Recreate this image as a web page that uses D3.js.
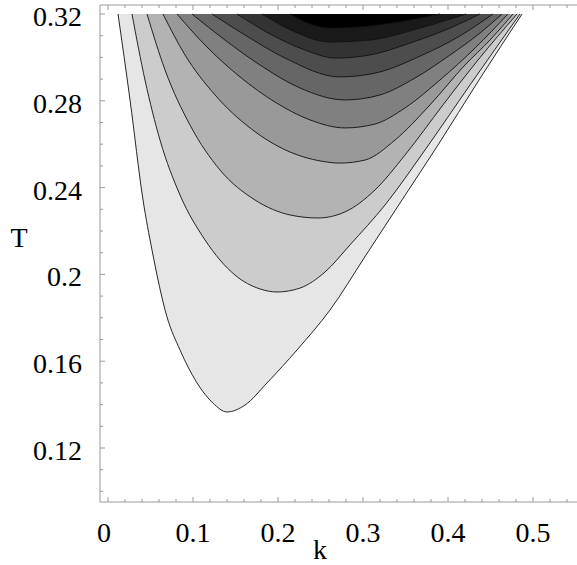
<!DOCTYPE html>
<html>
<head>
<meta charset="utf-8">
<script src="https://cdn.jsdelivr.net/npm/d3@7"></script>
<style>
  html, body { margin: 0; padding: 0; background: #fff; }
  svg { display: block; }
  text { font-family: "Liberation Serif", "Times New Roman", serif; fill: #000; }
</style>
</head>
<body>
<svg id="chart" width="577" height="565"></svg>
<script>
// Tick values
const kTicks = [0, 0.1, 0.2, 0.3, 0.4, 0.5];
const tTicks = [0.12, 0.16, 0.2, 0.24, 0.28, 0.32];

// Contour lines, outermost first, as [k, T] points; each opens onto T = 0.32
const contour1 = [[0.0118,0.32],[0.0259,0.2804],[0.0412,0.2343],[0.0518,0.2112],[0.0694,0.1804],[0.0847,0.1652],[0.1047,0.1500],[0.1235,0.1407],[0.14,0.1366],[0.1612,0.1398],[0.1871,0.1500],[0.2224,0.1652],[0.2612,0.1836],[0.3035,0.2089],[0.3459,0.2343],[0.3882,0.2596],[0.4365,0.2896],[0.4871,0.32]];
const contour2 = [[0.0282,0.32],[0.0435,0.2896],[0.0612,0.2619],[0.0847,0.2366],[0.1141,0.2159],[0.1494,0.1997],[0.1788,0.1933],[0.1988,0.1919],[0.2259,0.1937],[0.2553,0.2011],[0.2847,0.2136],[0.3259,0.2320],[0.3729,0.2573],[0.4259,0.2873],[0.4847,0.32]];
const contour3 = [[0.0459,0.32],[0.0671,0.2942],[0.0965,0.2688],[0.1318,0.2481],[0.1729,0.2343],[0.2141,0.2274],[0.2471,0.2260],[0.2788,0.2288],[0.3141,0.2389],[0.3494,0.2550],[0.3941,0.2781],[0.4353,0.2988],[0.4812,0.32]];
const contour4 = [[0.0647,0.32],[0.0906,0.3011],[0.1259,0.2827],[0.1671,0.2675],[0.2141,0.2564],[0.2494,0.2523],[0.2729,0.2513],[0.3024,0.2527],[0.3376,0.2619],[0.3788,0.2781],[0.4200,0.2965],[0.4494,0.3080],[0.4765,0.32]];
const contour5 = [[0.0812,0.32],[0.1141,0.3057],[0.1553,0.2910],[0.1965,0.2794],[0.2376,0.2712],[0.2788,0.2675],[0.3141,0.2693],[0.3494,0.2767],[0.3906,0.2896],[0.4318,0.3043],[0.4706,0.32]];
const contour6 = [[0.0988,0.32],[0.1376,0.3080],[0.1788,0.2965],[0.2259,0.2859],[0.2788,0.2804],[0.3200,0.2827],[0.3612,0.2905],[0.4024,0.3011],[0.4376,0.3112],[0.4635,0.32]];
const contour7 = [[0.1224,0.32],[0.1612,0.3103],[0.2082,0.2997],[0.2729,0.2910],[0.3200,0.2933],[0.3671,0.3006],[0.4141,0.3099],[0.4529,0.32]];
const contour8 = [[0.1518,0.32],[0.1906,0.3108],[0.2318,0.3034],[0.2671,0.2997],[0.3082,0.3011],[0.3553,0.3066],[0.4024,0.3135],[0.4376,0.32]];
const contour9 = [[0.1812,0.32],[0.2200,0.3117],[0.2612,0.3071],[0.3082,0.3080],[0.3671,0.3135],[0.4212,0.32]];
const contour10 = [[0.2141,0.32],[0.2376,0.3154],[0.2612,0.3135],[0.3082,0.3145],[0.3553,0.3172],[0.3906,0.32]];
const contours = [contour1, contour2, contour3, contour4, contour5, contour6, contour7, contour8, contour9, contour10];

// Gray level of the region enclosed by each contour
const shades = [0.9, 0.8, 0.7, 0.6, 0.5, 0.4, 0.3, 0.2, 0.1, 0.0];

const svg = d3.select("#chart");
const W = 577;

const x = d3.scaleLinear().domain([0, 0.5]).range([108, 533]);
const y = d3.scaleLinear().domain([0.12, 0.32]).range([448, 14]);

const xLeft = 100, yBottom = 502, yTop = 5;
const tTop = 0.32;

// Every contour is a single-valued T(k), so monotone interpolation in k keeps it smooth
const line = d3.line().x(d => x(d[0])).y(d => y(d[1])).curve(d3.curveMonotoneX);

// Filled regions, outer to inner
const plot = svg.append("g");
contours.forEach((c, i) => {
  const g = Math.round(255 * shades[i]);
  plot.append("path")
    .attr("d", line(c) + "L" + x(c[0][0]) + "," + y(tTop) + "Z")
    .attr("fill", `rgb(${g},${g},${g})`)
    .attr("stroke", "none");
});
contours.forEach(c => {
  plot.append("path")
    .attr("d", line(c))
    .attr("fill", "none")
    .attr("stroke", "#111")
    .attr("stroke-width", 0.9);
});

// Frame and ticks
const axisColor = "#9a9a9a";
const axes = svg.append("g").attr("stroke", axisColor).attr("stroke-width", 1).attr("fill", "none");
axes.append("line").attr("x1", xLeft).attr("x2", xLeft).attr("y1", yTop).attr("y2", yBottom);
axes.append("line").attr("x1", xLeft).attr("x2", W).attr("y1", yBottom).attr("y2", yBottom);
axes.append("line").attr("x1", xLeft).attr("x2", W).attr("y1", yTop).attr("y2", yTop);

const kMinor = d3.range(0, 0.56, 0.02);
kMinor.forEach(v => {
  const major = kTicks.some(t => Math.abs(t - v) < 1e-9);
  const len = major ? 5 : 3;
  axes.append("line").attr("x1", x(v)).attr("x2", x(v)).attr("y1", yBottom).attr("y2", yBottom - len);
  axes.append("line").attr("x1", x(v)).attr("x2", x(v)).attr("y1", yTop).attr("y2", yTop + len);
});
const tMinor = d3.range(0.10, 0.3251, 0.01);
tMinor.forEach(v => {
  const major = tTicks.some(t => Math.abs(t - v) < 1e-9);
  const len = major ? 5 : 3;
  axes.append("line").attr("x1", xLeft).attr("x2", xLeft + len).attr("y1", y(v)).attr("y2", y(v));
});

// Tick labels
const fs = 28;
svg.append("g").selectAll("text").data(kTicks).join("text")
  .attr("x", d => x(d) - (d === 0 ? 4 : 0))
  .attr("y", 542)
  .attr("text-anchor", "middle")
  .attr("font-size", fs)
  .text(d => d3.format("")(d));
svg.append("g").selectAll("text").data(tTicks).join("text")
  .attr("x", 82)
  .attr("y", d => y(d) + 12)
  .attr("text-anchor", "end")
  .attr("font-size", fs)
  .text(d => d3.format("")(d));

// Axis titles
svg.append("text").attr("x", 320).attr("y", 559).attr("text-anchor", "middle").attr("font-size", fs).text("k");
svg.append("text").attr("x", 19).attr("y", 247).attr("text-anchor", "middle").attr("font-size", fs).text("T");
</script>
</body>
</html>
